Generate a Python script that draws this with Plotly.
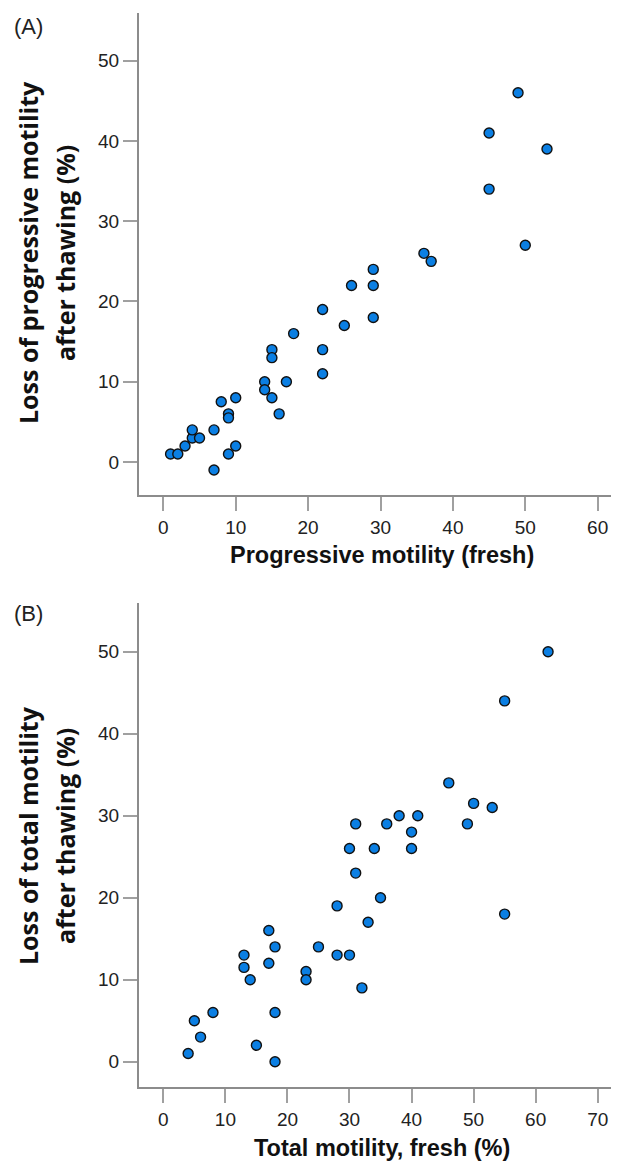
import plotly.graph_objects as go

# Panel A: progressive motility (fresh) vs loss after thawing
prog_fresh = [1, 2, 3, 4, 4, 5, 7, 7, 8, 9, 9, 9, 10, 10, 14, 14, 15, 15, 15, 16, 17, 18,
              22, 22, 22, 25, 26, 29, 29, 29, 36, 37, 45, 45, 49, 50, 53]
prog_loss = [1, 1, 2, 3, 4, 3, 4, -1, 7.5, 6, 5.5, 1, 8, 2, 10, 9, 8, 14, 13, 6, 10, 16,
             19, 14, 11, 17, 22, 24, 22, 18, 26, 25, 41, 34, 46, 27, 39]

# Panel B: total motility (fresh) vs loss after thawing
total_fresh = [62, 55, 46, 50, 53, 38, 41, 31, 36, 49, 40, 30, 34, 40, 31, 35, 28, 55, 33,
               17, 18, 25, 13, 28, 30, 13, 17, 23, 23, 14, 32, 8, 18, 5, 6, 15, 4, 18]
total_loss = [50, 44, 34, 31.5, 31, 30, 30, 29, 29, 29, 28, 26, 26, 26, 23, 20, 19, 18, 17,
              16, 14, 14, 13, 13, 13, 11.5, 12, 11, 10, 10, 9, 6, 6, 5, 3, 2, 1, 0]

xticks_a = [0, 10, 20, 30, 40, 50, 60]
xticks_b = [0, 10, 20, 30, 40, 50, 60, 70]
yticks = [0, 10, 20, 30, 40, 50]

W, H = 619, 1161
def px(x):
    return x / W
def py(y):
    return 1 - y / H

marker = dict(size=10, color="#0b7fe3", line=dict(color="#111111", width=1.4))

fig = go.Figure()
fig.add_trace(go.Scatter(x=prog_fresh, y=prog_loss, mode="markers", marker=marker,
                         xaxis="x", yaxis="y", showlegend=False, cliponaxis=False))
fig.add_trace(go.Scatter(x=total_fresh, y=total_loss, mode="markers", marker=marker,
                         xaxis="x2", yaxis="y2", showlegend=False, cliponaxis=False))

axis_common = dict(showgrid=False, zeroline=False, showline=True, linecolor="#8c8c8c",
                   linewidth=2, ticks="outside", ticklen=14, tickwidth=1.5, tickcolor="#a0a0a0",
                   tickfont=dict(family="Liberation Sans, Arial", size=19, color="#222222"))

fig.update_layout(
    width=W, height=H, margin=dict(l=0, r=0, t=0, b=0),
    paper_bgcolor="white", plot_bgcolor="white",
    xaxis=dict(domain=[px(139), px(611)], range=[-3.36, 61.84], tickvals=xticks_a,
               anchor="y", **axis_common),
    yaxis=dict(domain=[py(495), py(12.7)], range=[-4.11, 55.98], tickvals=yticks,
               anchor="x", **axis_common),
    xaxis2=dict(domain=[px(139), px(611)], range=[-3.92, 72.14], tickvals=xticks_b,
                anchor="y2", **axis_common),
    yaxis2=dict(domain=[py(1086.7), py(603.3)], range=[-3.05, 55.9], tickvals=yticks,
                anchor="x2", **axis_common),
)

ytitle_font = dict(family="Open Sans", size=25, color="#111111")
xtitle_font = dict(family="Liberation Sans, Arial", size=23.5, color="#111111")
label_font = dict(family="Liberation Sans, Arial", size=22, color="#222222")

annotations = [
    dict(text="(A)", x=px(28), y=py(26.5)),
    dict(text="(B)", x=px(28), y=py(613)),
]
for a in annotations:
    a.update(font=label_font)

annotations += [
    dict(text="<b>Loss of progressive motility</b>", x=px(28), y=py(253), textangle=-90, font=ytitle_font),
    dict(text="<b>after thawing (%)</b>", x=px(65), y=py(253), textangle=-90, font=ytitle_font),
    dict(text="<b>Loss of total motility</b>", x=px(28), y=py(836), textangle=-90, font=ytitle_font),
    dict(text="<b>after thawing (%)</b>", x=px(65), y=py(836), textangle=-90, font=ytitle_font),
    dict(text="<b>Progressive motility (fresh)</b>", x=px(382), y=py(555), font=xtitle_font),
    dict(text="<b>Total motility, fresh (%)</b>", x=px(382), y=py(1148), font=xtitle_font),
]
for a in annotations:
    a.update(xref="paper", yref="paper", showarrow=False, xanchor="center", yanchor="middle")

fig.update_layout(annotations=annotations)
fig.write_html("out.html")
